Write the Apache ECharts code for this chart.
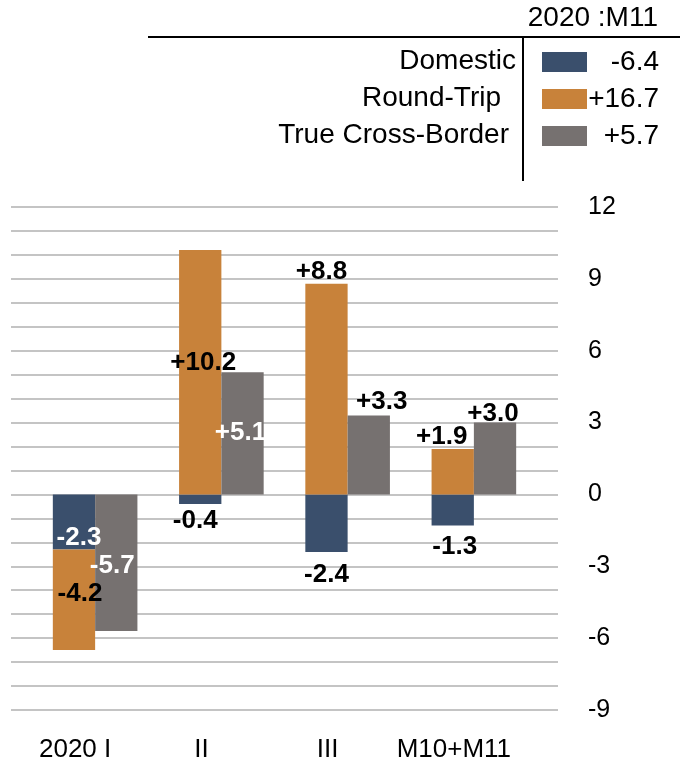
<!DOCTYPE html>
<html>
<head>
<meta charset="utf-8">
<script src="https://cdn.jsdelivr.net/npm/echarts@6/dist/echarts.min.js"></script>
<style>
  html, body { margin: 0; padding: 0; background: #fff; }
  #main { width: 680px; height: 771px; }
</style>
</head>
<body>
<div id="main"></div>
<script>
// data
const categories = ['2020 I', 'II', 'III', 'M10+M11'];
const seriesNames = ['Domestic', 'Round-Trip', 'True Cross-Border'];
const domestic = [-2.3, -0.4, -2.4, -1.3];
const roundTrip = [-4.2, 10.2, 8.8, 1.9];
const crossBorder = [-5.7, 5.1, 3.3, 3.0];
const totals = ['-6.4', '+16.7', '+5.7'];
const headerTitle = '2020 :M11';

const colors = ['#3a4f6c', '#c8823a', '#767170'];
const FONT = '"Liberation Sans", Arial, sans-serif';

// label placement per bar (Excel-style manual placement)
const domLabels = [
  { position: 'inside', offset: [5, 16], color: '#fff' },
  { position: 'inside', offset: [-5, 22], color: '#000' },
  { position: 'inside', offset: [0, 52], color: '#000' },
  { position: 'inside', offset: [2, 37], color: '#000' }
];
const rtLabels = [
  { position: 'inside', offset: [6, -6], color: '#000' },
  { position: 'inside', offset: [3, -9], color: '#000' },
  { position: 'top', offset: [-5, 1], color: '#000' },
  { position: 'top', offset: [-11, 1], color: '#000' }
];
const cbLabels = [
  { position: 'inside', offset: [-4, 3], color: '#fff' },
  { position: 'inside', offset: [-2, -1], color: '#fff' },
  { position: 'top', offset: [13, -1], color: '#000' },
  { position: 'top', offset: [-2, 4], color: '#000' }
];

function fmt(v) {
  return (v > 0 ? '+' : '') + v.toFixed(1);
}

function build(values, labels) {
  return values.map((v, i) => ({
    value: v,
    label: {
      show: true,
      position: labels[i].position,
      offset: labels[i].offset,
      distance: 0,
      color: labels[i].color,
      fontFamily: FONT,
      fontWeight: 'bold',
      fontSize: 26,
      formatter: fmt(v)
    }
  }));
}

const chart = echarts.init(document.getElementById('main'));

const rowY = [61, 98, 135];
const graphics = [
  { type: 'text', right: 22, top: 4, style: { text: headerTitle, font: '28px ' + FONT, fill: '#000' } },
  { type: 'line', shape: { x1: 148, y1: 37, x2: 680, y2: 37 }, style: { stroke: '#000', lineWidth: 2 } },
  { type: 'line', shape: { x1: 523, y1: 37, x2: 523, y2: 181 }, style: { stroke: '#000', lineWidth: 2 } }
];
const nameRight = [516, 501, 509];
seriesNames.forEach((name, i) => {
  graphics.push({
    type: 'text', x: nameRight[i], y: rowY[i],
    style: { text: name, font: '28px ' + FONT, fill: '#000', align: 'right', verticalAlign: 'middle' }
  });
  graphics.push({
    type: 'rect', shape: { x: 542, y: rowY[i] - 10 + 1, width: 45, height: 20 },
    style: { fill: colors[i] }
  });
  graphics.push({
    type: 'text', x: 659, y: rowY[i] + 1,
    style: { text: totals[i], font: '28px ' + FONT, fill: '#000', align: 'right', verticalAlign: 'middle' }
  });
});

const option = {
  animation: false,
  backgroundColor: '#fff',
  graphic: graphics,
  grid: [
    { left: 32, right: 143, top: 207, bottom: 61 },
    { left: 11, right: 122, top: 207, bottom: 61 }
  ],
  xAxis: [
    {
      type: 'category', gridIndex: 0, data: categories,
      axisLine: { show: false }, axisTick: { show: false },
      axisLabel: {
        interval: 0, hideOverlap: false,
        margin: 27, color: '#000', fontFamily: FONT, fontSize: 26,
        padding: [0, 40, 0, 0]
      }
    },
    { type: 'value', gridIndex: 1, show: false }
  ],
  yAxis: [
    {
      type: 'value', gridIndex: 0, min: -9, max: 12, interval: 1,
      show: false, splitLine: { show: false }
    },
    {
      type: 'value', gridIndex: 1, position: 'right', min: -9, max: 12, interval: 1,
      axisLine: { show: false }, axisTick: { show: false },
      splitLine: { lineStyle: { color: '#c4c4c4', width: 2 } },
      axisLabel: {
        margin: 30, color: '#000', fontFamily: FONT, fontSize: 25,
        formatter: v => (v % 3 === 0 ? String(v) : '')
      }
    }
  ],
  series: [
    {
      name: seriesNames[0], type: 'bar', stack: 'dr', xAxisIndex: 0, yAxisIndex: 0,
      barGap: '0%', barCategoryGap: '33%',
      itemStyle: { color: colors[0] }, data: build(domestic, domLabels)
    },
    {
      name: seriesNames[1], type: 'bar', stack: 'dr', xAxisIndex: 0, yAxisIndex: 0,
      barGap: '0%', barCategoryGap: '33%',
      itemStyle: { color: colors[1] }, data: build(roundTrip, rtLabels)
    },
    {
      name: seriesNames[2], type: 'bar', xAxisIndex: 0, yAxisIndex: 0,
      barGap: '0%', barCategoryGap: '33%',
      itemStyle: { color: colors[2] }, data: build(crossBorder, cbLabels)
    }
  ]
};

chart.setOption(option);
</script>
</body>
</html>
